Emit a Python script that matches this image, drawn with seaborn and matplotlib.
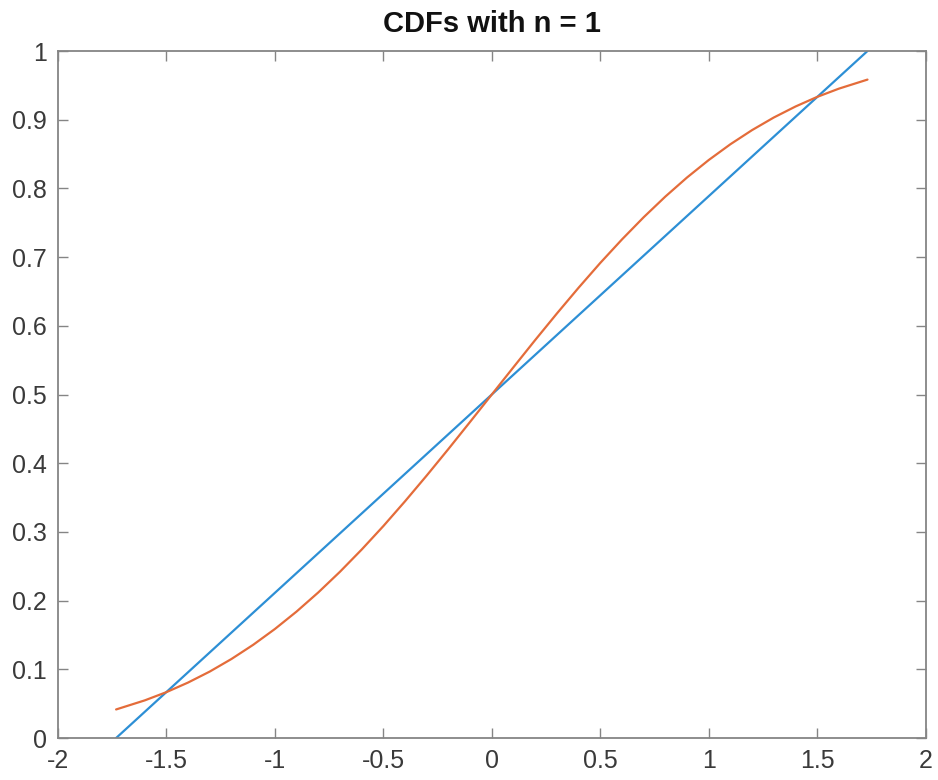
import matplotlib
matplotlib.use("Agg")
import matplotlib.pyplot as plt
import seaborn as sns
import pandas as pd

# Uniform CDF (blue line) endpoints
uni_x = [-1.732, 1.732]
uni_y = [0.0, 1.0]

# Normal-looking CDF (orange curve)
norm_x = [-1.732, -1.6, -1.5, -1.4, -1.3, -1.2, -1.1, -1.0, -0.9, -0.8, -0.7, -0.6,
          -0.5, -0.4, -0.3, -0.2, -0.1, 0.0, 0.1, 0.2, 0.3, 0.4, 0.5, 0.6, 0.7,
          0.8, 0.9, 1.0, 1.1, 1.2, 1.3, 1.4, 1.5, 1.6, 1.732]
norm_y = [0.0416, 0.0548, 0.0668, 0.0808, 0.0968, 0.1151, 0.1357, 0.1587, 0.1841,
          0.2119, 0.2420, 0.2743, 0.3085, 0.3446, 0.3821, 0.4207, 0.4602, 0.5000,
          0.5398, 0.5793, 0.6179, 0.6554, 0.6915, 0.7257, 0.7580, 0.7881, 0.8159,
          0.8413, 0.8643, 0.8849, 0.9032, 0.9192, 0.9332, 0.9452, 0.9584]

x_ticks = [-2, -1.5, -1, -0.5, 0, 0.5, 1, 1.5, 2]
x_labels = ["-2", "-1.5", "-1", "-0.5", "0", "0.5", "1", "1.5", "2"]
y_ticks = [0, 0.1, 0.2, 0.3, 0.4, 0.5, 0.6, 0.7, 0.8, 0.9, 1]
y_labels = ["0", "0.1", "0.2", "0.3", "0.4", "0.5", "0.6", "0.7", "0.8", "0.9", "1"]
title = "CDFs with n = 1"

sns.set_style("white")
plt.rcParams["font.family"] = ["Liberation Sans", "DejaVu Sans"]

fig = plt.figure(figsize=(9.38, 7.8), dpi=100)
ax = fig.add_axes([0.0618, 0.0538, 0.925, 0.8808])

df_u = pd.DataFrame({"x": uni_x, "y": uni_y})
df_n = pd.DataFrame({"x": norm_x, "y": norm_y})
sns.lineplot(data=df_u, x="x", y="y", ax=ax, color="#2D8FD5", linewidth=1.6, sort=False)
sns.lineplot(data=df_n, x="x", y="y", ax=ax, color="#E46C3A", linewidth=1.6, sort=False)

ax.set_xlim(-2, 2)
ax.set_ylim(0, 1)
ax.set_xticks(x_ticks)
ax.set_xticklabels(x_labels)
ax.set_yticks(y_ticks)
ax.set_yticklabels(y_labels)
ax.set_xlabel("")
ax.set_ylabel("")

axis_color = "#858585"
for s in ax.spines.values():
    s.set_visible(True)
    s.set_color(axis_color)
    s.set_linewidth(1.3)
ax.tick_params(axis="both", which="both", direction="in", length=7, width=1.0,
               color=axis_color, labelcolor="#3a3a3a", labelsize=18,
               top=True, right=True, bottom=True, left=True, pad=8)

ax.set_title(title, fontsize=21, fontweight="bold", color="#111111", pad=14)

fig.savefig("out.png", dpi=100)
